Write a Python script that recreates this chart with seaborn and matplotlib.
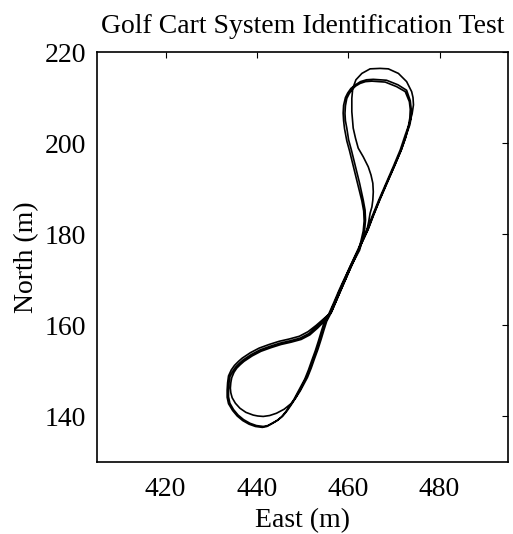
import matplotlib
matplotlib.use("Agg")
import matplotlib.pyplot as plt
import seaborn as sns
import pandas as pd

# Lap 1 (inner top loop, outer bottom loop)
east1 = [456.0, 457.1, 458.2, 459.3, 460.4, 461.6, 462.8, 464.1, 465.2, 466.7, 468.3, 469.9, 471.4, 472.5, 473.2, 473.5, 473.6, 473.4, 472.5, 470.6, 468.1, 465.2, 463.8, 462.6, 461.6, 460.8, 460.2, 459.7, 459.4, 459.3, 459.4, 459.7, 460.1, 460.7, 461.6, 462.5, 463.3, 463.7, 463.8, 463.6, 463.1, 462.5, 461.5, 460.5, 459.4, 458.3, 457.2, 456.1, 455.0, 454.4, 453.8, 453.1, 452.3, 451.6, 450.8, 450.0, 449.2, 448.4, 447.5, 446.6, 445.7, 444.6, 443.5, 442.4, 441.4, 439.9, 438.5, 437.1, 435.9, 434.9, 434.1, 433.8, 433.8, 433.9, 434.1, 434.7, 435.4, 436.2, 437.0, 438.8, 440.7, 442.9, 445.1, 447.3, 449.5, 451.4, 453.1, 454.6]
north1 = [162.7, 165.2, 167.8, 170.3, 172.9, 175.5, 178.1, 180.9, 183.8, 187.5, 191.2, 194.9, 198.5, 201.8, 203.8, 205.5, 207.4, 209.1, 211.3, 212.4, 213.4, 213.6, 213.5, 213.1, 212.5, 211.7, 210.8, 209.8, 208.2, 206.5, 204.9, 203.3, 200.7, 198.5, 194.8, 191.2, 187.5, 185.3, 183.1, 180.9, 178.7, 176.5, 174.6, 172.6, 170.3, 167.9, 165.3, 162.8, 160.7, 158.8, 156.8, 154.6, 152.4, 150.4, 148.4, 146.9, 145.4, 143.9, 142.5, 141.2, 140.1, 139.2, 138.6, 138.0, 137.8, 138.0, 138.5, 139.3, 140.3, 141.5, 142.9, 144.3, 145.8, 147.3, 148.7, 149.9, 150.9, 151.7, 152.4, 153.6, 154.6, 155.4, 156.1, 156.6, 157.2, 158.2, 159.7, 161.1]

# Lap 2 (inner top loop, outer bottom loop)
east2 = [456.3, 457.4, 458.5, 459.6, 460.7, 461.9, 463.1, 464.4, 465.5, 467.0, 468.6, 470.2, 471.7, 472.8, 473.5, 473.8, 473.8, 473.6, 472.8, 470.9, 468.4, 465.5, 464.0, 462.7, 461.6, 460.6, 459.9, 459.4, 459.0, 458.9, 459.0, 459.2, 459.7, 460.3, 461.2, 462.1, 463.0, 463.4, 463.5, 463.3, 462.8, 462.2, 461.2, 460.2, 459.1, 458.0, 456.9, 455.8, 454.7, 454.1, 453.5, 452.8, 452.0, 451.3, 450.5, 449.7, 448.9, 448.1, 447.2, 446.3, 445.4, 444.3, 443.3, 442.2, 441.2, 439.7, 438.3, 436.9, 435.7, 434.7, 433.8, 433.5, 433.5, 433.6, 433.8, 434.4, 435.1, 436.0, 436.8, 438.6, 440.5, 442.7, 444.9, 447.1, 449.3, 451.2, 453.0, 454.6]
north2 = [162.9, 165.4, 168.0, 170.5, 173.1, 175.7, 178.3, 181.1, 184.0, 187.7, 191.4, 195.1, 198.7, 202.0, 204.0, 205.6, 207.5, 209.3, 211.6, 212.8, 213.8, 214.0, 213.9, 213.5, 212.8, 212.0, 211.0, 210.0, 208.3, 206.6, 204.9, 203.2, 200.5, 198.3, 194.6, 191.0, 187.3, 185.1, 182.9, 180.7, 178.5, 176.3, 174.4, 172.4, 170.1, 167.7, 165.1, 162.6, 160.5, 158.6, 156.6, 154.4, 152.2, 150.2, 148.2, 146.7, 145.2, 143.7, 142.3, 141.0, 139.9, 139.0, 138.4, 137.8, 137.6, 137.8, 138.3, 139.1, 140.1, 141.3, 142.8, 144.2, 145.8, 147.4, 148.9, 150.2, 151.2, 152.1, 152.8, 154.0, 155.0, 155.8, 156.5, 157.0, 157.6, 158.6, 160.0, 161.4]

# Lap 3 (outer top loop, inner bottom loop)
east3 = [456.2, 457.3, 458.4, 459.5, 460.6, 461.8, 463.0, 464.3, 465.4, 466.9, 468.5, 470.1, 471.6, 472.6, 473.3, 474.0, 474.3, 474.2, 473.9, 472.8, 471.0, 468.8, 467.0, 464.8, 463.0, 461.7, 461.0, 460.8, 460.8, 461.1, 461.6, 462.2, 463.3, 464.4, 465.0, 465.4, 465.5, 465.4, 465.2, 464.8, 464.5, 464.1, 463.5, 462.9, 461.8, 460.8, 459.7, 458.6, 457.5, 456.4, 455.3, 454.7, 454.1, 453.4, 452.6, 451.9, 451.1, 450.3, 449.5, 448.6, 447.6, 446.0, 444.3, 442.8, 441.4, 440.2, 439.2, 437.6, 436.3, 435.3, 434.6, 434.3, 434.2, 434.3, 434.5, 435.0, 435.6, 436.4, 437.2, 439.0, 440.9, 443.1, 445.3, 447.5, 449.7, 451.6, 453.3, 454.8, 456.0]
north3 = [162.8, 165.3, 167.9, 170.4, 173.0, 175.6, 178.2, 181.0, 183.9, 187.6, 191.3, 194.9, 198.4, 201.2, 204.0, 206.4, 208.4, 210.0, 211.3, 213.5, 215.3, 216.3, 216.4, 216.3, 215.3, 213.9, 212.0, 209.8, 206.9, 203.3, 201.1, 198.9, 197.0, 194.8, 193.0, 191.2, 189.3, 187.5, 186.0, 184.6, 182.8, 180.9, 179.4, 178.1, 175.5, 173.2, 170.7, 168.2, 165.6, 163.0, 160.9, 159.0, 157.0, 154.8, 152.6, 150.6, 148.6, 147.1, 145.6, 144.2, 142.9, 141.6, 140.7, 140.2, 140.0, 140.1, 140.3, 140.9, 141.8, 142.9, 144.1, 145.2, 146.2, 147.4, 148.5, 149.7, 150.6, 151.4, 152.1, 153.3, 154.3, 155.1, 155.8, 156.3, 156.9, 157.9, 159.4, 160.9, 162.6]

xticks = [420, 440, 460, 480]
yticks = [140, 160, 180, 200, 220]

east = east1 + east2 + east3
north = north1 + north2 + north3
df = pd.DataFrame({"East": east, "North": north, "step": range(len(east))})

sns.set_theme(style="white")
plt.rcParams["font.family"] = ["Liberation Serif", "DejaVu Serif"]

fig = plt.figure(figsize=(5.13, 5.34), dpi=100)
ax = fig.add_axes([97 / 513, 72 / 534, 411 / 513, 410 / 534])

sns.lineplot(data=df, x="East", y="North", sort=False, estimator=None,
             color="black", linewidth=1.2, ax=ax)

ax.set_xlim(405, 495)
ax.set_ylim(130, 220)
ax.set_xticks(xticks)
ax.set_yticks(yticks)
ax.tick_params(direction="in", length=4, width=0.8, top=True, right=True,
               labelsize=20, colors="black")
ax.tick_params(axis="x", pad=11)
ax.tick_params(axis="y", pad=8)
for s in ax.spines.values():
    s.set_visible(True)
    s.set_color("black")
    s.set_linewidth(1.2)
ax.set_xlabel("East (m)", fontsize=20, color="black", labelpad=4)
ax.set_ylabel("North (m)", fontsize=20, color="black", labelpad=4)
ax.set_title("Golf Cart System Identification Test", fontsize=20, color="black", pad=14)
ax.set_facecolor("white")
fig.patch.set_facecolor("white")

fig.savefig("out.png", dpi=100)
